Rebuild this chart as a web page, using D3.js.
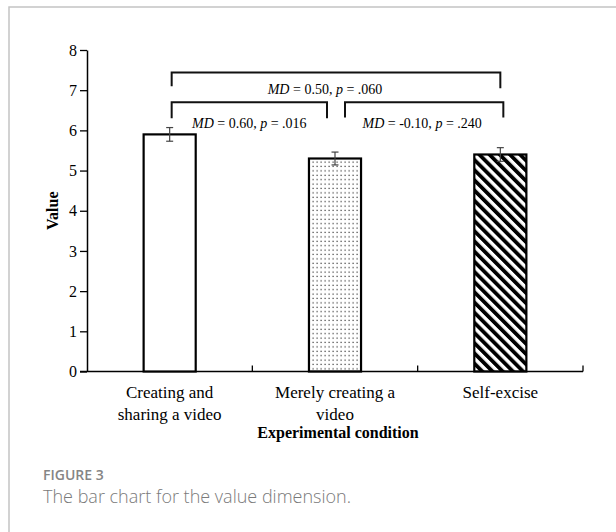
<!DOCTYPE html>
<html>
<head>
<meta charset="utf-8">
<script src="https://cdn.jsdelivr.net/npm/d3@7"></script>
<style>
  body { margin: 0; background: #fff; }
  svg text { font-family: "Liberation Serif", "Times New Roman", serif; }
</style>
</head>
<body>
<svg width="616" height="532"></svg>
<script>
// chart values
var categories = ["Creating and sharing a video", "Merely creating a video", "Self-excise"];
var labelLines = [["Creating and", "sharing a video"], ["Merely creating a", "video"], ["Self-excise"]];
var values = [5.9, 5.3, 5.4];
var errors = [0.17, 0.16, 0.17];
var yTicks = [0, 1, 2, 3, 4, 5, 6, 7, 8];
var pairs = [[0, 1], [1, 2], [0, 2]];
var mdValues = ["0.60", "-0.10", "0.50"];
var pValues = [".016", ".240", ".060"];

var svg = d3.select("svg");
var margin = {top: 50, right: 33, bottom: 160.5, left: 87};
var width = +svg.attr("width") - margin.left - margin.right;
var height = +svg.attr("height") - margin.top - margin.bottom;

// panel frame (top and left only)
svg.append("path")
  .attr("d", "M9,532V7H616")
  .attr("fill", "none")
  .attr("stroke", "#c4c4c4")
  .attr("stroke-width", 1.5);

var defs = svg.append("defs");
var dots = defs.append("pattern")
  .attr("id", "dots")
  .attr("patternUnits", "userSpaceOnUse")
  .attr("width", 4).attr("height", 4.4);
dots.append("rect").attr("x", 1.5).attr("y", 1.5).attr("width", 1.2).attr("height", 1.2).attr("fill", "#333");

var hatch = defs.append("pattern")
  .attr("id", "hatch")
  .attr("patternUnits", "userSpaceOnUse")
  .attr("width", 7.2).attr("height", 7.2)
  .attr("patternTransform", "rotate(-45)");
hatch.append("rect").attr("width", 3.8).attr("height", 7.2).attr("fill", "#000");

var fills = ["#fff", "url(#dots)", "url(#hatch)"];

var x = d3.scaleBand().domain(d3.range(categories.length)).range([0, width]).padding(0);
var y = d3.scaleLinear().domain([0, 8]).range([height, 0]);
var barW = x.bandwidth() * 0.315;

var graph = svg.append("g")
  .attr("transform", "translate(" + margin.left + "," + margin.top + ")");

// y axis
var yAxis = graph.append("g")
  .call(d3.axisLeft(y).tickValues(yTicks).tickSize(7).tickSizeOuter(0).tickPadding(3))
  .attr("font-size", 16)
  .attr("font-family", "Liberation Serif");
yAxis.select(".domain").attr("stroke-width", 1.5);
yAxis.selectAll(".tick line").attr("stroke-width", 1.3);
yAxis.selectAll(".tick text").attr("fill", "#000").style("font-size", "16px");

// x axis line with boundary ticks pointing up
graph.append("line")
  .attr("x1", -7).attr("x2", width)
  .attr("y1", height).attr("y2", height)
  .attr("stroke", "#000").attr("stroke-width", 1.5);
graph.selectAll(".xtick")
  .data(d3.range(categories.length))
  .enter().append("line")
  .attr("class", "xtick")
  .attr("x1", function(d) { return x(d) + x.bandwidth(); })
  .attr("x2", function(d) { return x(d) + x.bandwidth(); })
  .attr("y1", height).attr("y2", height - 6)
  .attr("stroke", "#000").attr("stroke-width", 1.3);

// bars
graph.selectAll(".bar")
  .data(values)
  .enter().append("rect")
  .attr("class", "bar")
  .attr("x", function(d, i) { return x(i) + (x.bandwidth() - barW) / 2; })
  .attr("y", function(d) { return y(d); })
  .attr("width", barW)
  .attr("height", function(d) { return height - y(d); })
  .attr("fill", function(d, i) { return fills[i]; })
  .attr("stroke", "#000")
  .attr("stroke-width", 2.2);

// error bars
var eb = graph.selectAll(".err")
  .data(values)
  .enter().append("g")
  .attr("class", "err")
  .attr("stroke", "#444")
  .attr("stroke-width", 1.2);
eb.append("line")
  .attr("x1", function(d, i) { return x(i) + x.bandwidth() / 2; })
  .attr("x2", function(d, i) { return x(i) + x.bandwidth() / 2; })
  .attr("y1", function(d, i) { return y(d + errors[i]); })
  .attr("y2", function(d, i) { return y(d - errors[i]); });
[1, -1].forEach(function(s) {
  eb.append("line")
    .attr("x1", function(d, i) { return x(i) + x.bandwidth() / 2 - 3.5; })
    .attr("x2", function(d, i) { return x(i) + x.bandwidth() / 2 + 3.5; })
    .attr("y1", function(d, i) { return y(d + s * errors[i]); })
    .attr("y2", function(d, i) { return y(d + s * errors[i]); });
});

// x labels
labelLines.forEach(function(lines, i) {
  graph.append("text")
    .attr("text-anchor", "middle")
    .attr("font-size", 17)
    .selectAll("tspan")
    .data(lines)
    .enter().append("tspan")
    .attr("x", x(i) + x.bandwidth() / 2)
    .attr("y", function(d, j) { return height + 26 + j * 22; })
    .text(function(d) { return d; });
});

graph.append("text")
  .attr("x", width / 2 + 3)
  .attr("y", height + 66)
  .attr("text-anchor", "middle")
  .attr("font-size", 16)
  .attr("font-weight", "bold")
  .text("Experimental condition");

graph.append("text")
  .attr("transform", "translate(-29," + (height / 2) + ") rotate(-90)")
  .attr("text-anchor", "middle")
  .attr("font-size", 16)
  .attr("font-weight", "bold")
  .text("Value");

// comparison brackets
var bracket = [
  {x0: 2, x1: -8, top: 6.7, leg0: 6.3, leg1: 6.3, textY: 6.05, dx: 0},
  {x0: 10, x1: 3, top: 6.7, leg0: 6.32, leg1: 6.32, textY: 6.05, dx: -2},
  {x0: 2, x1: 0, top: 7.44, leg0: 7.1, leg1: 7.05, textY: 6.9, dx: -11}
];
pairs.forEach(function(p, k) {
  var b = bracket[k];
  var xa = x(p[0]) + x.bandwidth() / 2 + b.x0;
  var xb = x(p[1]) + x.bandwidth() / 2 + b.x1;
  graph.append("path")
    .attr("d", "M" + xa + "," + y(b.leg0) + "V" + y(b.top) + "H" + xb + "V" + y(b.leg1))
    .attr("fill", "none")
    .attr("stroke", "#111")
    .attr("stroke-width", 2);
  var t = graph.append("text")
    .attr("x", (xa + xb) / 2 + b.dx)
    .attr("y", y(b.textY))
    .attr("text-anchor", "middle")
    .attr("font-size", 14);
  t.append("tspan").attr("font-style", "italic").text("MD");
  t.append("tspan").text(" = " + mdValues[k] + ", ");
  t.append("tspan").attr("font-style", "italic").text("p");
  t.append("tspan").text(" = " + pValues[k]);
});

// caption
svg.append("text")
  .attr("x", 43).attr("y", 480)
  .attr("font-size", 14)
  .attr("fill", "#858585")
  .style("font-family", "Open Sans")
  .style("font-weight", 600)
  .text("FIGURE 3");
svg.append("text")
  .attr("x", 43).attr("y", 503)
  .attr("font-size", 18)
  .attr("fill", "#7a7a7a")
  .style("font-family", "Open Sans")
  .style("font-weight", 300)
  .text("The bar chart for the value dimension.");
</script>
</body>
</html>
